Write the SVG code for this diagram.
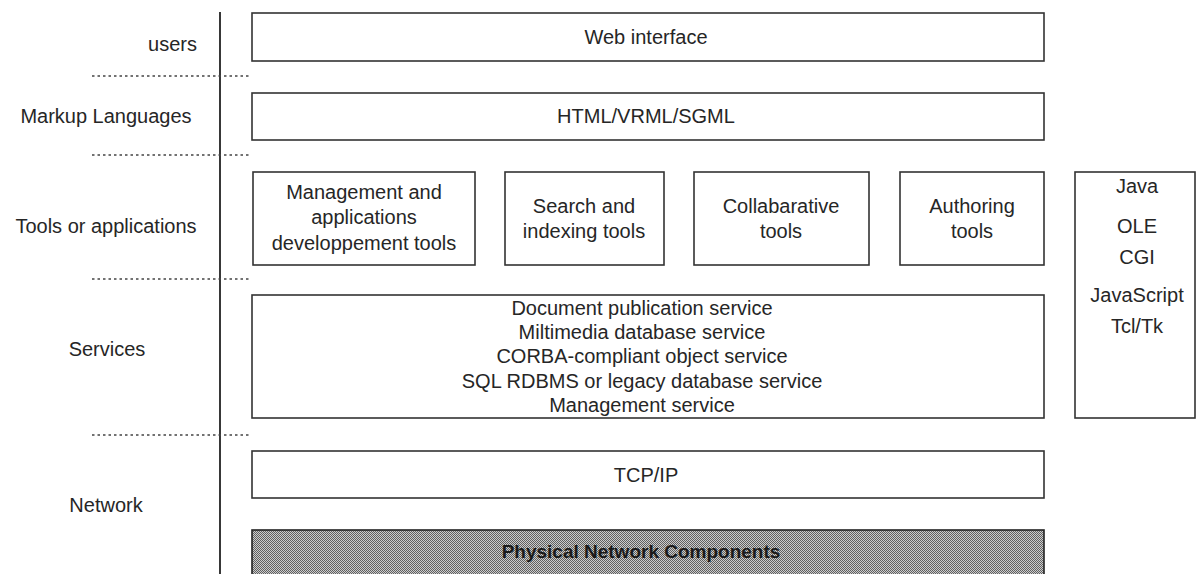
<svg xmlns="http://www.w3.org/2000/svg" width="1201" height="574" viewBox="0 0 1201 574">
<style>
text{font-family:"Liberation Sans",Arial,sans-serif;font-size:20px;fill:#262626}
.c{text-anchor:middle}
.box{fill:#fff;stroke:#333;stroke-width:1.6}
.dot{stroke:#444;stroke-width:1.5;stroke-dasharray:2.5 3;fill:none}
.phys{font-weight:bold;font-size:19px;fill:#1a1a1a}
</style>
<defs>
<pattern id="dither" width="2" height="2" patternUnits="userSpaceOnUse">
<rect width="2" height="2" fill="#cccccc"/>
<rect width="1" height="1" fill="#606060"/>
<rect x="1" y="1" width="1" height="1" fill="#606060"/>
</pattern>
</defs>
<rect width="1201" height="574" fill="#fff"/>
<g id="axis">
<line x1="220" y1="12" x2="220" y2="574" stroke="#222" stroke-width="1.8"/>
<line class="dot" x1="92" y1="76" x2="249" y2="76"/>
<line class="dot" x1="92" y1="155" x2="249" y2="155"/>
<line class="dot" x1="92" y1="279" x2="249" y2="279"/>
<line class="dot" x1="92" y1="435" x2="249" y2="435"/>
</g>
<g id="layer-labels">
<text x="197" y="51" style="text-anchor:end">users</text>
<text class="c" x="106" y="123">Markup Languages</text>
<text class="c" x="106" y="233">Tools or applications</text>
<text class="c" x="107" y="356">Services</text>
<text class="c" x="106" y="512">Network</text>
</g>
<g id="web">
<rect class="box" x="252" y="13" width="792" height="48"/>
<text class="c" x="646" y="44">Web interface</text>
</g>
<g id="markup">
<rect class="box" x="252" y="93" width="792" height="47"/>
<text class="c" x="646" y="123">HTML/VRML/SGML</text>
</g>
<g id="mgmt-tools">
<rect class="box" x="253" y="172" width="222" height="93"/>
<text class="c" x="364" y="199">Management and</text>
<text class="c" x="364" y="224">applications</text>
<text class="c" x="364" y="250">developpement tools</text>
</g>
<g id="search-tools">
<rect class="box" x="505" y="172" width="159" height="93"/>
<text class="c" x="584" y="213">Search and</text>
<text class="c" x="584" y="238">indexing tools</text>
</g>
<g id="collab-tools">
<rect class="box" x="694" y="172" width="175" height="93"/>
<text class="c" x="781" y="213">Collabarative</text>
<text class="c" x="781" y="238">tools</text>
</g>
<g id="authoring-tools">
<rect class="box" x="900" y="172" width="144" height="93"/>
<text class="c" x="972" y="213">Authoring</text>
<text class="c" x="972" y="238">tools</text>
</g>
<g id="languages">
<rect class="box" x="1075" y="172" width="120" height="246"/>
<text class="c" x="1137" y="193">Java</text>
<text class="c" x="1137" y="233">OLE</text>
<text class="c" x="1137" y="264">CGI</text>
<text class="c" x="1137" y="302">JavaScript</text>
<text class="c" x="1137" y="333">Tcl/Tk</text>
</g>
<g id="services">
<rect class="box" x="252" y="295" width="792" height="123"/>
<text class="c" x="642" y="315">Document publication service</text>
<text class="c" x="642" y="339">Miltimedia database service</text>
<text class="c" x="642" y="363">CORBA-compliant object service</text>
<text class="c" x="642" y="388">SQL RDBMS or legacy database service</text>
<text class="c" x="642" y="412">Management service</text>
</g>
<g id="tcpip">
<rect class="box" x="252" y="451" width="792" height="47"/>
<text class="c" x="646" y="482">TCP/IP</text>
</g>
<g id="physical">
<rect x="252" y="530" width="792" height="50" fill="url(#dither)" stroke="#222" stroke-width="1.6"/>
<text class="c phys" x="641" y="558">Physical Network Components</text>
</g>
<g id="connectors"></g>
</svg>
